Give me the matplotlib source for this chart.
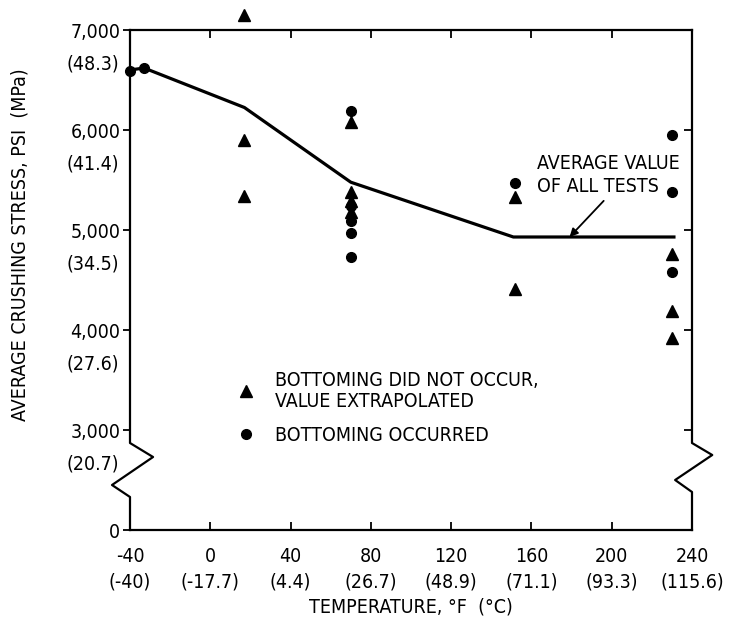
import matplotlib
matplotlib.use("Agg")
import matplotlib.pyplot as plt
from matplotlib.lines import Line2D
from matplotlib.transforms import offset_copy

plt.rcParams['font.family'] = ['DejaVu Sans']
plt.rcParams['font.stretch'] = 'condensed'
plt.rcParams['font.size'] = 14

# temperature axis, deg F with deg C below
x_ticks = [-40, 0, 40, 80, 120, 160, 200, 240]
x_ticks_c = ['-40', '-17.7', '4.4', '26.7', '48.9', '71.1', '93.3', '115.6']

# stress axis, psi with MPa below ("0" sits under the break)
y_ticks = [3000, 4000, 5000, 6000, 7000]
y_ticks_psi = ['3,000', '4,000', '5,000', '6,000', '7,000']
y_ticks_mpa = ['20.7', '27.6', '34.5', '41.4', '48.3']

# bottoming did not occur, value extrapolated
tri_t = [17, 17, 17, 70, 70, 70, 70, 152, 152, 230, 230, 230]
tri_s = [7150, 5905, 5340, 6080, 5380, 5290, 5180, 5330, 4415, 4760, 4195, 3925]

# bottoming occurred
dot_t = [-40, -33, 70, 70, 70, 70, 70, 152, 230, 230, 230]
dot_s = [6595, 6620, 6190, 5240, 5090, 4970, 4730, 5470, 5955, 5380, 4580]

# average value of all tests
avg_t = [-40, -33, 17, 70, 151, 231]
avg_s = [6600, 6620, 6225, 5478, 4930, 4930]

Y_ZERO = 2000  # where the "0" tick is drawn below the break

fig = plt.figure(figsize=(7.29, 6.27), dpi=100)
ax = fig.add_axes([130/729, 1 - 530/627, 562/729, 500/627])
ax.set_xlim(-40, 240)
ax.set_ylim(Y_ZERO, 7000)

ax.plot(avg_t, avg_s, color='black', lw=2.3, solid_joinstyle='round')
ax.plot(tri_t, tri_s, ls='none', marker='^', ms=8, color='black', clip_on=False)
ax.plot(dot_t, dot_s, ls='none', marker='o', ms=7, color='black', clip_on=False)

# frame: top/bottom are spines, sides drawn with the break zigzag
ax.spines['left'].set_visible(False)
ax.spines['right'].set_visible(False)
ax.spines['top'].set_linewidth(1.6)
ax.spines['bottom'].set_linewidth(1.6)
ax.plot([0, 0, 0.041, -0.032, 0, 0], [1, 0.174, 0.146, 0.09, 0.066, 0],
        transform=ax.transAxes, color='black', lw=1.6, clip_on=False)
ax.plot([1, 1, 1.036, 0.970, 1, 1], [1, 0.174, 0.15, 0.10, 0.076, 0],
        transform=ax.transAxes, color='black', lw=1.6, clip_on=False)

# x ticks
ax.set_xticks(x_ticks)
ax.set_xticklabels(['%d\n(%s)' % (f, c) for f, c in zip(x_ticks, x_ticks_c)])
for lab in ax.get_xticklabels():
    lab.set_linespacing(1.45)
ax.tick_params(axis='x', direction='in', top=True, length=6, width=1.3, pad=12)

# y ticks, left side outward
ax.set_yticks([Y_ZERO] + y_ticks)
ax.set_yticklabels(['0'] + y_ticks_psi)
ax.tick_params(axis='y', direction='out', length=5, width=1.3, pad=2)
tr = offset_copy(ax.get_yaxis_transform(), fig=fig, x=-11, y=-34, units='dots')
for v, m in zip(y_ticks, y_ticks_mpa):
    ax.text(0, v, '(%s)' % m, transform=tr, ha='right', va='center')

# right side ticks, inward
ax2 = ax.twinx()
ax2.set_ylim(Y_ZERO, 7000)
ax2.set_yticks(y_ticks)
ax2.tick_params(axis='y', direction='in', length=6, width=1.3, labelright=False)
for s in ax2.spines.values():
    s.set_visible(False)

ax.annotate('AVERAGE VALUE\nOF ALL TESTS', xy=(179, 4930), xytext=(162.7, 5552),
            ha='left', va='center', linespacing=1.3,
            arrowprops=dict(arrowstyle='-|>', color='black', lw=1.3,
                            mutation_scale=12, relpos=(0.5, 0), shrinkA=2, shrinkB=0))

handles = [Line2D([], [], ls='none', marker='^', ms=8, color='black'),
           Line2D([], [], ls='none', marker='o', ms=7, color='black')]
leg = ax.legend(handles, ['BOTTOMING DID NOT OCCUR,\nVALUE EXTRAPOLATED', 'BOTTOMING OCCURRED'],
                loc='upper left', bbox_to_anchor=(0.189, 0.318), frameon=False,
                borderpad=0, borderaxespad=0, handlelength=1, handletextpad=1.0,
                labelspacing=0.8)
for t in leg.get_texts():
    t.set_linespacing(1.1)

fig.text(20/729, 1 - 245/627, 'AVERAGE CRUSHING STRESS, PSI  (MPa)', rotation=90,
         ha='center', va='center')
fig.text(411/729, 1 - 607/627, 'TEMPERATURE, °F  (°C)', ha='center', va='center')

fig.savefig('out.png', dpi=100)
